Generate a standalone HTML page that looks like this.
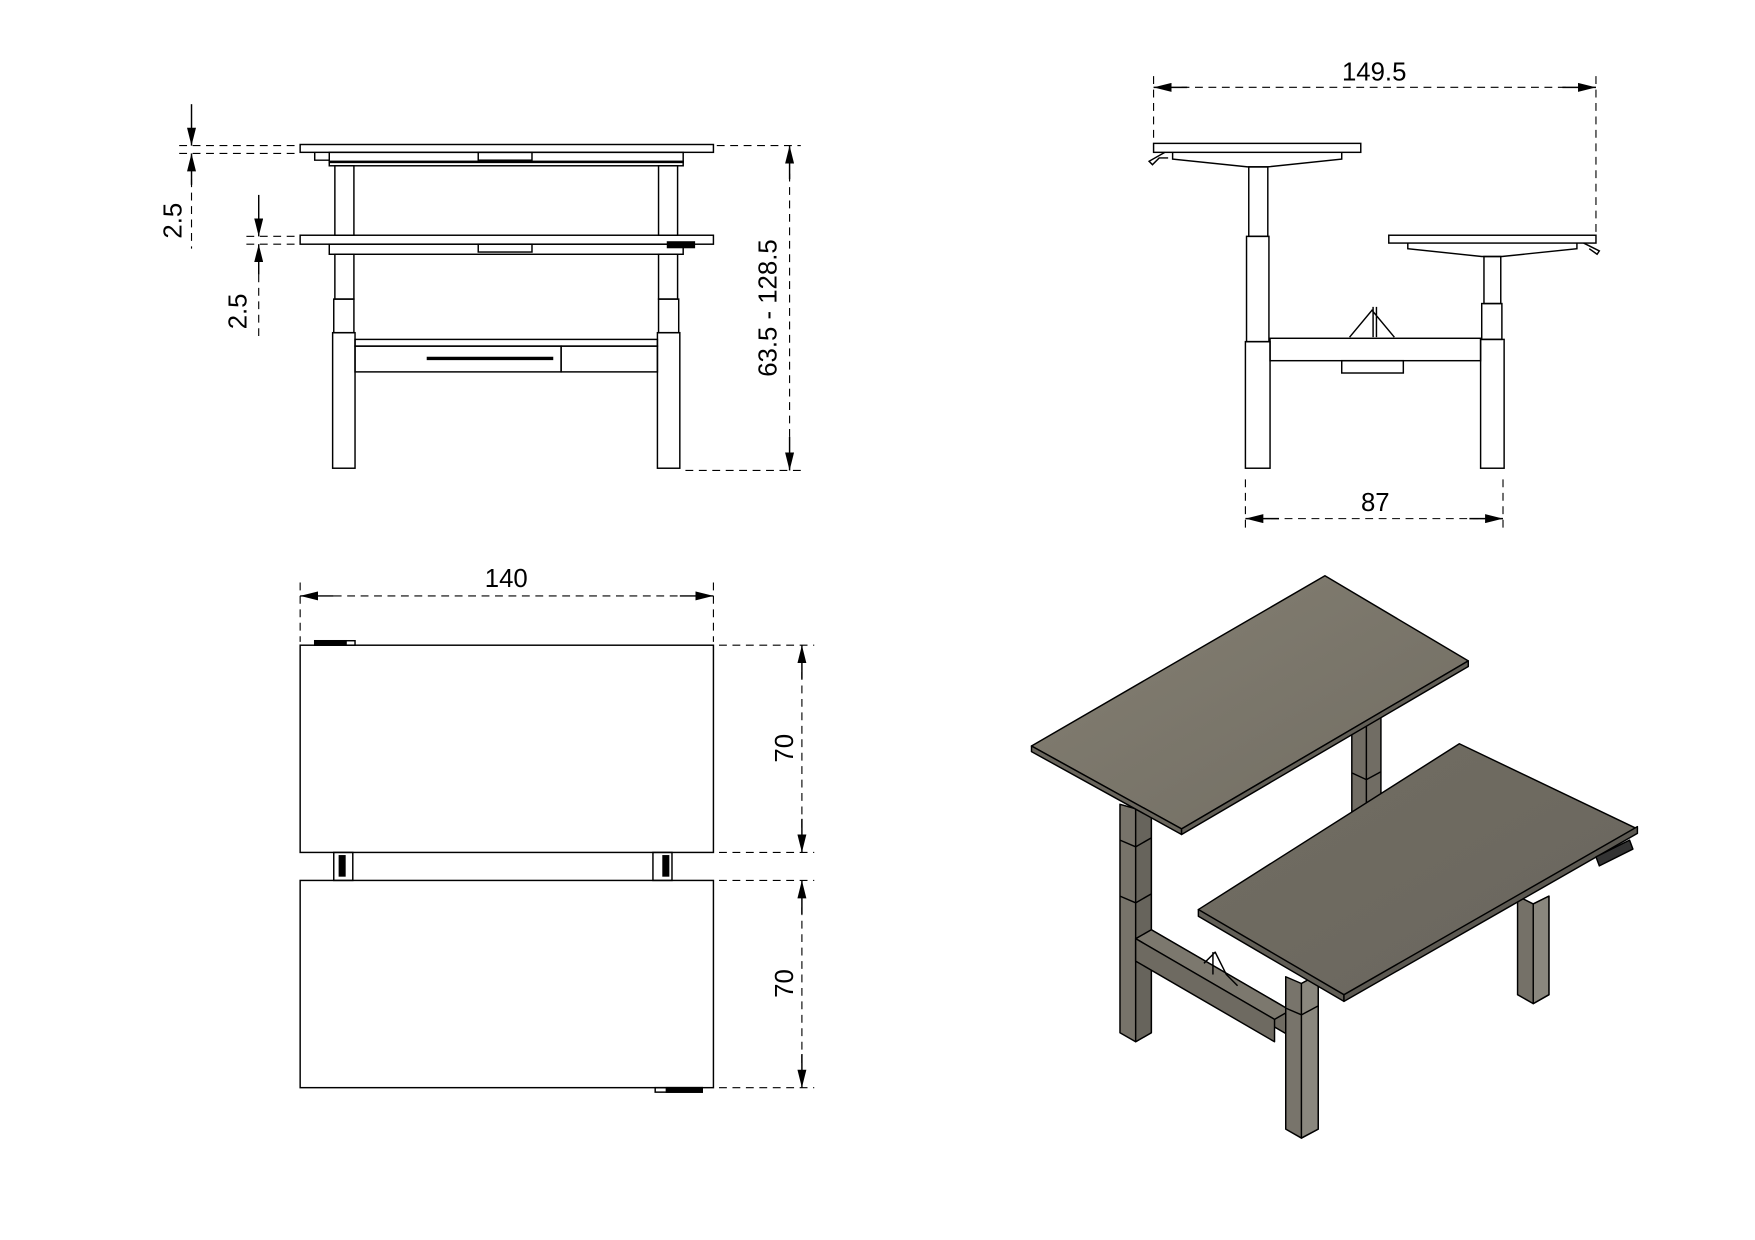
<!DOCTYPE html>
<html><head><meta charset="utf-8"><style>
html,body{margin:0;padding:0;background:#fff;}
svg{display:block;}
text{font-family:"Liberation Sans",sans-serif;fill:#000;}
</style></head><body>
<svg width="1755" height="1240" viewBox="0 0 1567 1107" preserveAspectRatio="none" xmlns="http://www.w3.org/2000/svg">
<defs>
<marker id="a" viewBox="0 0 10 6" refX="10" refY="3" markerWidth="16" markerHeight="8" markerUnits="userSpaceOnUse" orient="auto-start-reverse" preserveAspectRatio="none"><path d="M0,0 L10,3 L0,6 z" fill="#000"/></marker>
<linearGradient id="g1" x1="0" y1="0" x2="1" y2="1"><stop offset="0" stop-color="#847f72"/><stop offset="1" stop-color="#716d63"/></linearGradient>
<linearGradient id="g2" x1="0" y1="0" x2="1" y2="1"><stop offset="0" stop-color="#716d62"/><stop offset="1" stop-color="#6a665e"/></linearGradient>
</defs>
<g fill="none" stroke="#000" stroke-width="1.3">
<!-- FRONT VIEW -->
<g stroke-dasharray="7,5" stroke-width="1">
<line x1="160" y1="130" x2="268" y2="130"/><line x1="160" y1="137" x2="268" y2="137"/>
<line x1="171" y1="160" x2="171" y2="222"/>
<line x1="220" y1="211" x2="268" y2="211"/><line x1="220" y1="218" x2="268" y2="218"/>
<line x1="231" y1="245" x2="231" y2="302"/>
<line x1="640" y1="130" x2="715" y2="130"/><line x1="612" y1="420" x2="715" y2="420"/>
<line x1="705" y1="155" x2="705" y2="395"/>
</g>
<line x1="171" y1="93" x2="171" y2="130" marker-end="url(#a)"/>
<line x1="171" y1="165" x2="171" y2="137" marker-end="url(#a)"/>
<line x1="231" y1="174" x2="231" y2="211" marker-end="url(#a)"/>
<line x1="231" y1="245" x2="231" y2="218" marker-end="url(#a)"/>
<line x1="705" y1="160" x2="705" y2="130" marker-end="url(#a)"/>
<line x1="705" y1="390" x2="705" y2="420" marker-end="url(#a)"/>
<rect x="268" y="129" width="369" height="7"/>
<rect x="294" y="136" width="316" height="9"/>
<rect x="427" y="136" width="48" height="7"/>
<rect x="294" y="144" width="316" height="4"/>
<path d="M281 136 v7 h13"/>
<rect x="268" y="210" width="369" height="8"/>
<rect x="294" y="218" width="316" height="9"/>
<rect x="427" y="218" width="48" height="7"/>
<rect x="596" y="216" width="24" height="5" fill="#000"/>
<rect x="299" y="148" width="17" height="62"/><rect x="588" y="148" width="17" height="62"/>
<rect x="299" y="227" width="17" height="40"/><rect x="588" y="227" width="17" height="40"/>
<rect x="298" y="267" width="18" height="30"/><rect x="588" y="267" width="18" height="30"/>
<rect x="297" y="297" width="20" height="121"/><rect x="587" y="297" width="20" height="121"/>
<rect x="317" y="303" width="270" height="6"/>
<rect x="317" y="309" width="184" height="23"/><rect x="501" y="309" width="86" height="23"/>
<line x1="381" y1="320" x2="494" y2="320" stroke-width="3"/>
<!-- SIDE VIEW -->
<g stroke-dasharray="7,5" stroke-width="1">
<line x1="1030" y1="68" x2="1030" y2="127"/><line x1="1425" y1="68" x2="1425" y2="208"/>
<line x1="1055" y1="78" x2="1400" y2="78"/>
<line x1="1112" y1="428" x2="1112" y2="474"/><line x1="1342" y1="428" x2="1342" y2="474"/>
<line x1="1135" y1="463" x2="1320" y2="463"/>
</g>
<line x1="1060" y1="78" x2="1030" y2="78" marker-end="url(#a)"/>
<line x1="1395" y1="78" x2="1425" y2="78" marker-end="url(#a)"/>
<line x1="1142" y1="463" x2="1112" y2="463" marker-end="url(#a)"/>
<line x1="1312" y1="463" x2="1342" y2="463" marker-end="url(#a)"/>
<rect x="1030" y="128" width="185" height="8"/>
<path d="M1047 136 v6 l67 7 h18 l66 -7 v-6"/>
<path d="M1040 136 l-14 8 l3 3 l6 -6 h8"/>
<rect x="1115" y="149" width="17" height="62"/>
<rect x="1113" y="211" width="20" height="94"/>
<rect x="1112" y="305" width="22" height="113"/>
<rect x="1240" y="210" width="185" height="7"/>
<path d="M1408 217 v5 l-67 7 h-18 l-66 -7 v-5"/>
<path d="M1414 217 l14 7 l-2 3 l-7 -5"/>
<rect x="1325" y="229" width="15" height="42"/>
<rect x="1323" y="271" width="18" height="32"/>
<rect x="1322" y="303" width="21" height="115"/>
<rect x="1134" y="302" width="188" height="20"/>
<rect x="1198" y="322" width="55" height="11"/>
<path d="M1205 301 l20 -24 l20 24 M1226 274 v27 M1229 274 v27"/>
<!-- PLAN VIEW -->
<g stroke-dasharray="7,5" stroke-width="1">
<line x1="268" y1="520" x2="268" y2="573"/><line x1="637" y1="520" x2="637" y2="573"/>
<line x1="298" y1="532" x2="607" y2="532"/>
<line x1="642" y1="576" x2="727" y2="576"/><line x1="642" y1="761" x2="727" y2="761"/>
<line x1="642" y1="786" x2="727" y2="786"/><line x1="642" y1="971" x2="727" y2="971"/>
<line x1="716" y1="600" x2="716" y2="740"/><line x1="716" y1="810" x2="716" y2="950"/>
</g>
<line x1="298" y1="532" x2="268" y2="532" marker-end="url(#a)"/>
<line x1="607" y1="532" x2="637" y2="532" marker-end="url(#a)"/>
<line x1="716" y1="606" x2="716" y2="576" marker-end="url(#a)"/>
<line x1="716" y1="731" x2="716" y2="761" marker-end="url(#a)"/>
<line x1="716" y1="816" x2="716" y2="786" marker-end="url(#a)"/>
<line x1="716" y1="941" x2="716" y2="971" marker-end="url(#a)"/>
<rect x="268" y="576" width="369" height="185"/>
<rect x="268" y="786" width="369" height="185"/>
<rect x="281" y="572" width="36" height="4"/><rect x="281" y="572" width="28" height="4" fill="#000"/>
<rect x="585" y="971" width="42" height="4"/><rect x="595" y="971" width="32" height="4" fill="#000"/>
<rect x="298" y="761" width="17" height="25"/><rect x="583" y="761" width="17" height="25"/>
<rect x="303" y="764" width="5" height="18" fill="#000"/><rect x="592" y="764" width="5" height="18" fill="#000"/>
</g>
<text x="155" y="197" font-size="23" text-anchor="middle" transform="rotate(-90 155 197)" dominant-baseline="central">2.5</text>
<text x="213" y="278" font-size="23" text-anchor="middle" transform="rotate(-90 213 278)" dominant-baseline="central">2.5</text>
<text x="686" y="275" font-size="23" text-anchor="middle" transform="rotate(-90 686 275)" dominant-baseline="central">63.5 - 128.5</text>
<text x="1227" y="72" font-size="23" text-anchor="middle">149.5</text>
<text x="1228" y="456" font-size="23" text-anchor="middle">87</text>
<text x="452" y="524" font-size="23" text-anchor="middle">140</text>
<text x="701" y="668" font-size="23" text-anchor="middle" transform="rotate(-90 701 668)" dominant-baseline="central">70</text>
<text x="701" y="878" font-size="23" text-anchor="middle" transform="rotate(-90 701 878)" dominant-baseline="central">70</text>
<!-- ISOMETRIC -->
<g stroke="#000" stroke-width="1.3" stroke-linejoin="round">
<polygon points="1207,640 1220,633 1233,640 1233,735 1220,742 1207,735" fill="#716d64"/>
<line x1="1220" y1="633" x2="1220" y2="742"/>
<line x1="1207" y1="690" x2="1220" y2="696"/><line x1="1220" y1="696" x2="1233" y2="689"/>
<polygon points="1219,718 1245,710 1245,720 1219,728" fill="#6a675e"/>
<polygon points="1000,718 1014,722 1028,714 1028,922 1014,930 1000,922" fill="#77736a"/>
<polygon points="1014,722 1028,714 1028,922 1014,930" fill="#67645c"/>
<line x1="1000" y1="750" x2="1014" y2="756"/><line x1="1014" y1="756" x2="1028" y2="748"/>
<line x1="1000" y1="800" x2="1014" y2="806"/><line x1="1014" y1="806" x2="1028" y2="798"/>
<polygon points="1028,830 1152,902 1152,925 1028,853" fill="#6f6b62"/>
<polygon points="1014,838 1028,830 1152,902 1138,910" fill="#7c786e"/>
<polygon points="1014,838 1138,910 1138,930 1014,858" fill="#6e6a61"/>
<path d="M1075 860 l10 -10 l10 20 l10 10 M1083 850 v20" fill="none"/>
<polygon points="1148,872 1162,878 1177,870 1177,1008 1162,1016 1148,1008" fill="#78746b"/>
<polygon points="1162,878 1177,870 1177,1008 1162,1016" fill="#8a877e"/>
<line x1="1148" y1="900" x2="1162" y2="906"/><line x1="1162" y1="906" x2="1177" y2="898"/>
<polygon points="1355,800 1369,807 1383,800 1383,888 1369,896 1355,888" fill="#757168"/>
<polygon points="1369,807 1383,800 1383,888 1369,896" fill="#8a877e"/>
<polygon points="921,666 1183,514 1311,590 1055,740" fill="url(#g1)"/>
<polygon points="921,666 1055,740 1055,745 921,671" fill="#6a665d"/>
<polygon points="1055,740 1311,590 1311,595 1055,745" fill="#625f57"/>
<polygon points="1070,812 1303,664 1462,740 1200,893" fill="url(#g2)"/>
<polygon points="1070,812 1200,888 1200,894 1070,818" fill="#625f57"/>
<polygon points="1200,888 1462,738 1462,744 1200,894" fill="#5c5952"/>
<polygon points="1425,765 1455,750 1458,758 1428,773" fill="#333"/>
</g>
</svg>
</body></html>
